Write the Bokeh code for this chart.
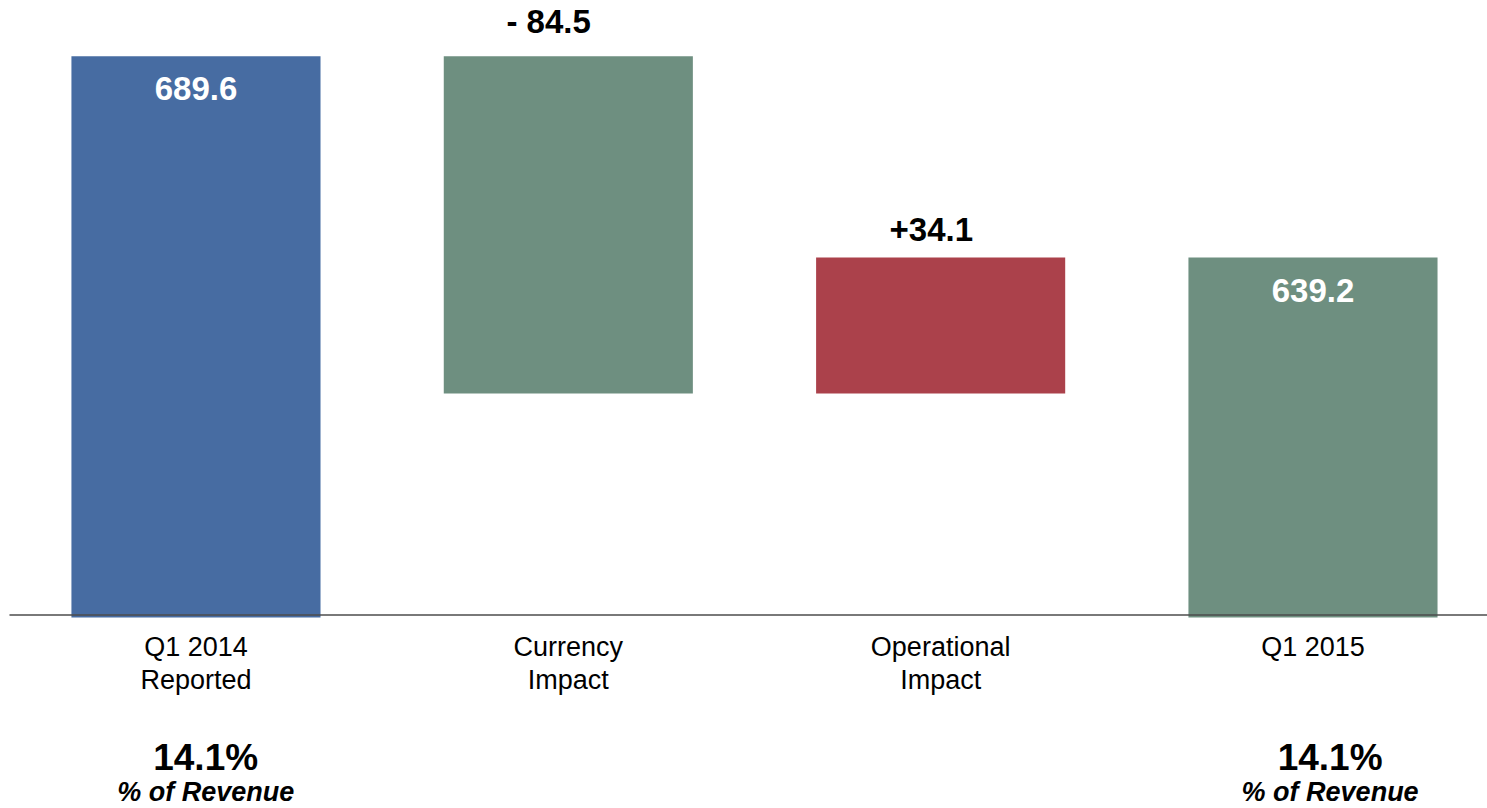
from bokeh.plotting import figure
from bokeh.models import Range1d, ColumnDataSource
from bokeh.embed import file_html
from bokeh.resources import INLINE
from bokeh.core.properties import value

# ---- data ----
cat_line1 = ["Q1 2014", "Currency", "Operational", "Q1 2015"]
cat_line2 = ["Reported", "Impact", "Impact", ""]
amounts = [689.6, -84.5, 34.1, 639.2]
kinds = ["total", "delta", "delta", "total"]
value_labels = ["689.6", "- 84.5", "+34.1", "639.2"]
bar_colors = ["#476CA2", "#6E8F80", "#AB414B", "#6E8F80"]
pct_index = [0, 3]
pct_values = ["14.1%", "14.1%"]
pct_caption = ["% of Revenue", "% of Revenue"]
axis_base = 549.6

# ---- layout constants ----
W, H = 1487, 808
Y_TOP = 703.6
PX = 3.99  # pixels per unit
Y_BOT = Y_TOP - H / PX
X_START, X_END = -0.525, 3.4687
BAR_W = 0.669
FONT = "Liberation Sans"
BASE_FIX = 0.375  # em correction for baseline placement


def dpx(px):
    return px / PX


# waterfall geometry
bottoms, tops = [], []
running = 0.0
for a, k in zip(amounts, kinds):
    if k == "total":
        bottoms.append(axis_base - dpx(2.5))
        tops.append(a)
        running = a
    else:
        new = running + a
        bottoms.append(min(running, new))
        tops.append(max(running, new))
        running = new

xs = list(range(len(cat_line1)))

p = figure(width=W, height=H, x_range=Range1d(X_START, X_END),
           y_range=Range1d(Y_BOT, Y_TOP), output_backend="svg",
           toolbar_location=None, min_border=0)
p.axis.visible = False
p.grid.visible = False
p.outline_line_color = None
p.background_fill_color = "white"
p.border_fill_color = "white"

src = ColumnDataSource(dict(x=xs, bottom=bottoms, top=tops, color=bar_colors))
p.vbar(x="x", bottom="bottom", top="top", width=BAR_W, fill_color="color",
       line_color=None, source=src)

# baseline
p.segment(x0=[-0.5009], y0=[axis_base], x1=[X_END], y1=[axis_base],
          line_color="#4d4d4d", line_width=1.5)

# value labels (offsets in px, positive = above bar top; baseline)
fs_val = 33
lab_offsets = [-45, 22, 16, -45]
lab_colors = ["white", "black", "black", "white"]
lab_xoff = [0, -0.053, -0.025, 0]
lab_src = ColumnDataSource(dict(
    x=[x + o for x, o in zip(xs, lab_xoff)],
    y=[t + dpx(o + BASE_FIX * fs_val) for t, o in zip(tops, lab_offsets)],
    text=value_labels, color=lab_colors))
p.text(x="x", y="y", text="text", text_color="color", source=lab_src,
       text_font=value(FONT), text_font_style="bold", text_font_size=f"{fs_val}px",
       text_align="center", text_baseline="alphabetic")

# category labels
fs_cat = 27
p.text(x=xs, y=[axis_base - dpx(42 - BASE_FIX * fs_cat)] * 4, text=cat_line1,
       text_font=value(FONT), text_font_size=f"{fs_cat}px", text_color="black",
       text_align="center", text_baseline="alphabetic")
p.text(x=xs, y=[axis_base - dpx(75 - BASE_FIX * fs_cat)] * 4, text=cat_line2,
       text_font=value(FONT), text_font_size=f"{fs_cat}px", text_color="black",
       text_align="center", text_baseline="alphabetic")

# percent of revenue
fs_pct, fs_cap = 37, 27
pct_xoff = [0.026, 0.046]
px_x = [i + o for i, o in zip(pct_index, pct_xoff)]
p.text(x=px_x, y=[axis_base - dpx(156 - BASE_FIX * fs_pct)] * 2, text=pct_values,
       text_font=value(FONT), text_font_style="bold", text_font_size=f"{fs_pct}px",
       text_color="black", text_align="center", text_baseline="alphabetic")
p.text(x=px_x, y=[axis_base - dpx(187 - BASE_FIX * fs_cap)] * 2, text=pct_caption,
       text_font=value(FONT), text_font_style="bold italic", text_font_size=f"{fs_cap}px",
       text_color="black", text_align="center", text_baseline="alphabetic")

open("out.html", "w").write(file_html(p, INLINE))
